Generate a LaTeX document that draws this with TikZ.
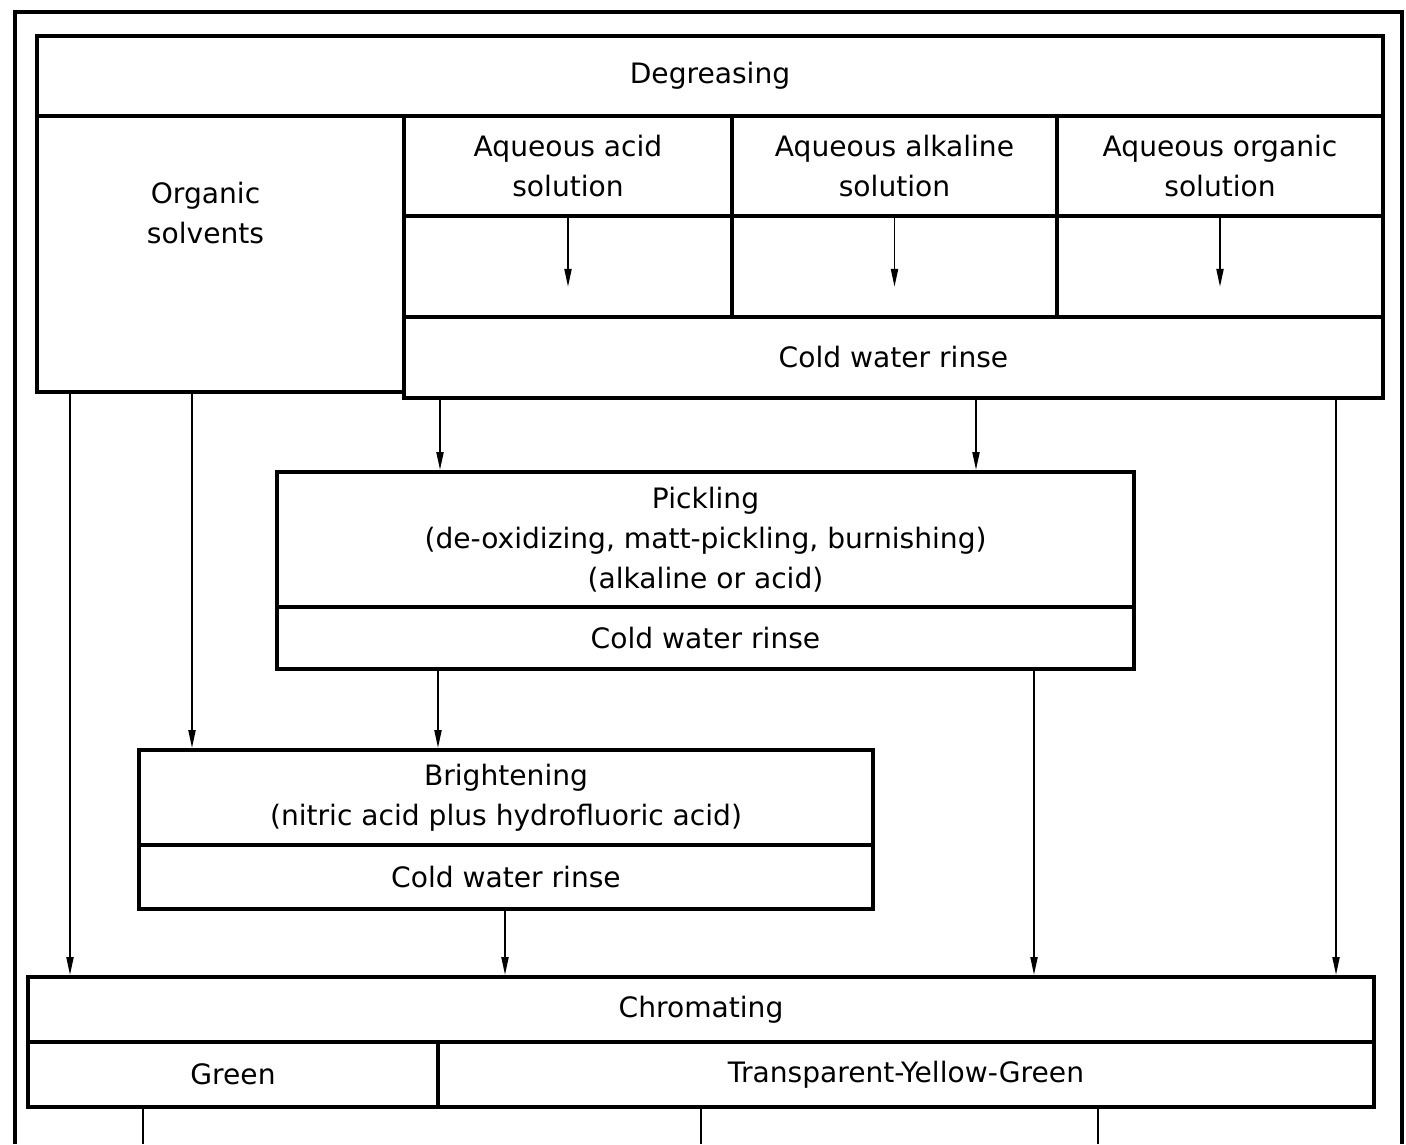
\documentclass[tikz,border=0pt]{standalone}
\usepackage{fontspec}
\setmainfont{DejaVu Sans}
\usetikzlibrary{fit,arrows.meta}

\begin{document}
\begin{tikzpicture}
      [x=0.02cm,y=-0.02cm,
       every node/.style={font=\fontsize{16}{22.7}\selectfont,align=center},
       box/.style={draw,line width=2.2pt,inner sep=0pt},
       arr/.style={line width=1.1pt,-{Triangle[length=0.36cm,width=0.14cm]}},
       link/.style={line width=1.1pt}]
      \useasboundingbox (0,0) rectangle (1406,1144);
      \draw [line width=1.8pt] (15,1144) -- (15,12) -- (1402,12) -- (1402,1144);

      % degreasing
      \node [box,fit={(37,36) (1383,116)},label={center:Degreasing}] (deg) {};
      \node [box,fit={(37,116) (404,392)}] (org) {};
      \node (orgtext) at ([xshift=-0.3cm,yshift=0.82cm]org.center) {Organic\\solvents};
      \node [box,fit={(404,116) (732,216)},label={center:{Aqueous acid\\solution}}] (acid) {};
      \node [box,fit={(732,116) (1057,216)},label={center:{Aqueous alkaline\\solution}}] (alk) {};
      \node [box,fit={(1057,116) (1383,216)},label={center:{Aqueous organic\\solution}}] (orgsol) {};
      \node [box,fit={(404,216) (732,317)}] (acidcell) {};
      \node [box,fit={(732,216) (1057,317)}] (alkcell) {};
      \node [box,fit={(1057,216) (1383,317)}] (orgcell) {};
      \node [box,fit={(404,317) (1383,398)},label={center:Cold water rinse}] (rinse) {};

      \foreach \c in {acidcell, alkcell, orgcell}
      \draw [arr] (\c.north) -- ([yshift=0.64cm]\c.south);

      % pickling
      \node [box,fit={(277,472) (1134,607)},
             label={center:{Pickling\\(de-oxidizing, matt-pickling, burnishing)\\(alkaline or acid)}}] (pick) {};
      \node [box,fit={(277,607) (1134,669)},label={center:Cold water rinse}] (pickrinse) {};

      % brightening
      \node [box,fit={(139,750) (873,845)},
             label={center:{Brightening\\(nitric acid plus hydrofluoric acid)}}] (bright) {};
      \node [box,fit={(139,845) (873,909)},label={center:Cold water rinse}] (brightrinse) {};

      % chromating
      \node [box,fit={(28,977) (1374,1042)},label={center:Chromating}] (chrom) {};
      \node [box,fit={(28,1042) (438,1107)},label={center:Green}] (green) {};
      \node [box,fit={(438,1042) (1374,1107)},label={center:Transparent-Yellow-Green}] (tyg) {};

      \foreach \from/\to/\xpos in {org/chrom/70, org/bright/192, rinse/pick/440,
          rinse/pick/976, rinse/chrom/1336, pickrinse/bright/438,
          pickrinse/chrom/1034, brightrinse/chrom/505}
      \draw [arr] (\from.south -| \xpos,0) -- (\to.north -| \xpos,0);

      \coordinate (outA) at (143,1144);
      \coordinate (outB) at (701,1144);
      \coordinate (outC) at (1098,1144);
      \draw [link] (green.south -| outA) -- (outA);
      \draw [link] (tyg.south -| outB) -- (outB);
      \draw [link] (tyg.south -| outC) -- (outC);
    \end{tikzpicture}
\end{document}
